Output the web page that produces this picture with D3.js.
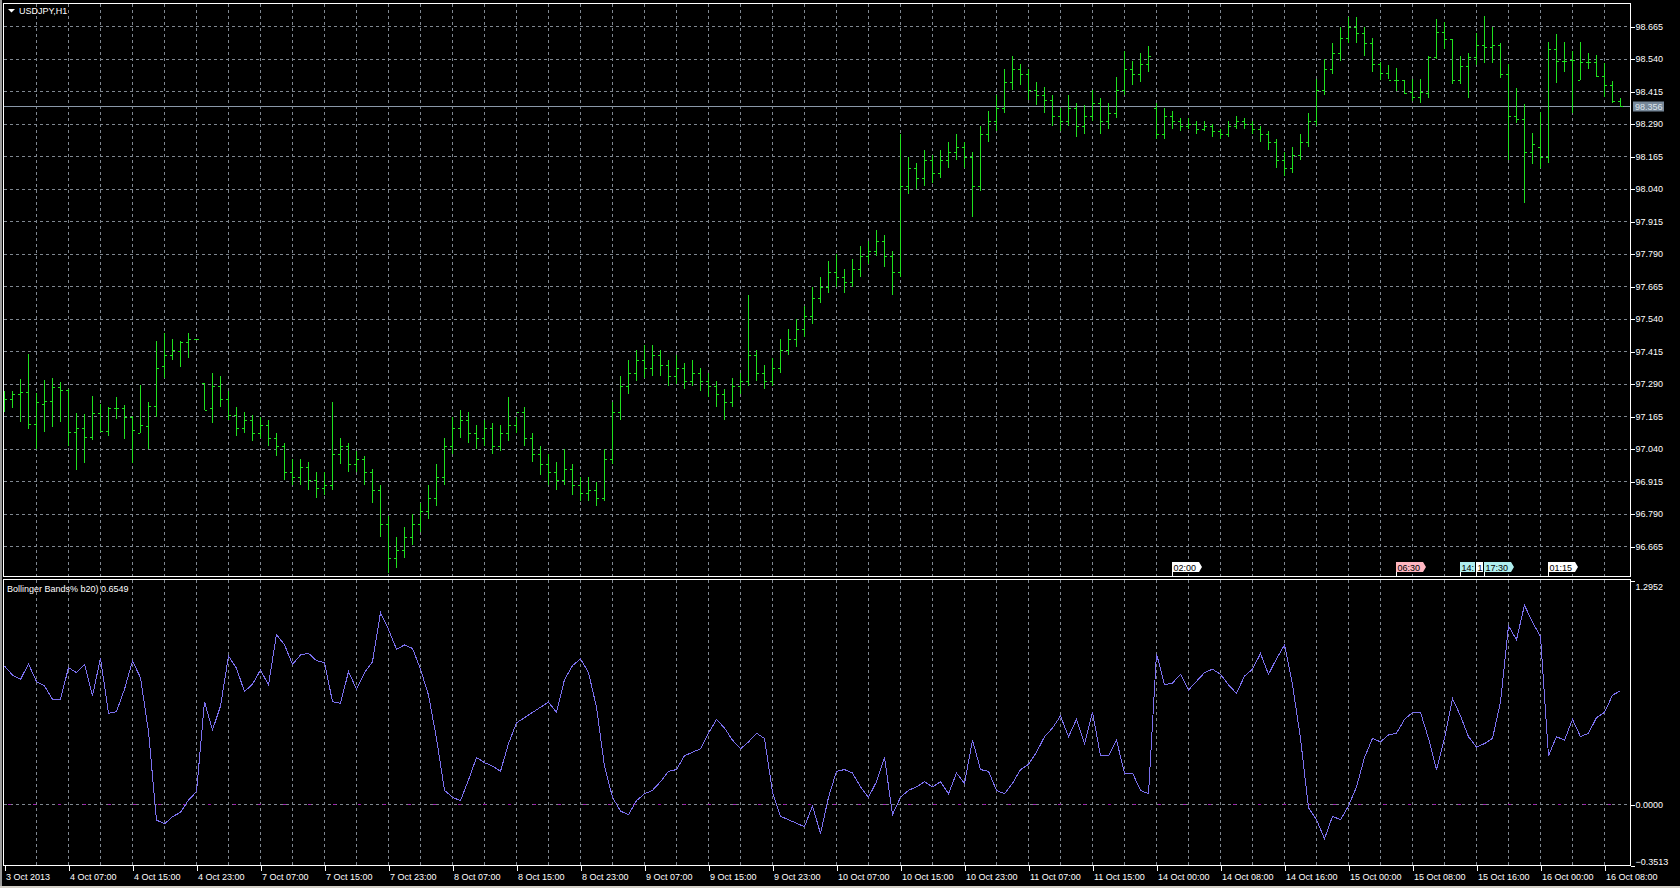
<!DOCTYPE html>
<html>
<head>
<meta charset="utf-8">
<title>USDJPY,H1</title>
<script src="https://cdn.jsdelivr.net/npm/d3@7/dist/d3.min.js"></script>
<style>
  body { margin: 0; background: #000; overflow: hidden; }
  svg { display: block; font-family: "Liberation Sans", Arial, sans-serif; }
</style>
</head>
<body>
<svg id="chart" width="1680" height="888"></svg>
<script>
// USDJPY hourly bars, 3 Oct 2013 23:00 .. 16 Oct 2013 10:00
var opens = [
 97.22,97.229,97.249,97.257,97.134,97.213,97.222,97.275,97.265,97.102,
 97.120,97.083,97.175,97.107,97.194,97.194,97.160,97.101,97.126,97.203,
 97.357,97.399,97.415,97.451,97.460,97.293,97.194,97.28,97.23,97.17,
 97.12,97.15,97.10,97.13,97.08,97.05,96.95,96.93,96.97,96.92,
 96.89,96.90,97.02,97.05,96.98,97.00,96.95,96.88,96.75,96.62,
 96.65,96.70,96.75,96.80,96.85,96.93,97.05,97.12,97.15,97.10,
 97.08,97.12,97.05,97.10,97.13,97.18,97.08,97.02,96.98,96.95,
 96.92,96.96,96.90,96.87,96.88,96.85,97.00,97.18,97.28,97.33,
 97.38,97.35,97.40,97.36,97.32,97.35,97.30,97.33,97.30,97.28,
 97.25,97.22,97.28,97.30,97.40,97.33,97.30,97.35,97.42,97.46,
 97.50,97.55,97.62,97.66,97.72,97.70,97.68,97.73,97.78,97.80,
 97.84,97.78,97.72,98.05,98.12,98.08,98.15,98.10,98.15,98.18,
 98.20,98.16,98.05,98.25,98.30,98.35,98.45,98.50,98.48,98.42,
 98.40,98.38,98.32,98.30,98.35,98.28,98.32,98.37,98.30,98.33,
 98.42,98.50,98.48,98.52,98.35,98.25,98.32,98.30,98.28,98.29,
 98.27,98.28,98.26,98.25,98.28,98.30,98.29,98.27,98.25,98.22,
 98.15,98.12,98.17,98.22,98.30,98.42,98.50,98.56,98.62,98.66,
 98.64,98.60,98.52,98.486,98.457,98.457,98.412,98.393,98.406,98.547,
 98.641,98.615,98.457,98.511,98.547,98.592,98.585,98.592,98.480,98.319,
 98.307,98.180,98.200,98.160,98.575,98.530,98.534,98.457,98.528,98.528,
 98.473,98.438,98.378
]
var highs = [
 97.26,97.261,97.306,97.403,97.252,97.303,97.310,97.297,97.267,97.175,
 97.171,97.242,97.213,97.198,97.237,97.207,97.165,97.284,97.220,97.455,
 97.483,97.460,97.455,97.483,97.463,97.293,97.329,97.32,97.26,97.20,
 97.18,97.17,97.16,97.15,97.10,97.06,97.00,97.00,96.99,96.95,
 96.95,97.22,97.08,97.06,97.03,97.01,96.96,96.90,96.78,96.70,
 96.74,96.79,96.83,96.90,96.98,97.08,97.16,97.19,97.18,97.13,
 97.15,97.14,97.13,97.24,97.16,97.20,97.10,97.05,97.02,96.99,
 97.04,96.98,96.93,96.93,96.91,97.04,97.22,97.32,97.38,97.42,
 97.44,97.44,97.42,97.38,97.40,97.37,97.38,97.35,97.33,97.30,
 97.27,97.31,97.33,97.63,97.42,97.36,97.39,97.46,97.50,97.54,
 97.59,97.66,97.70,97.76,97.79,97.73,97.77,97.82,97.84,97.88,
 97.86,97.80,98.25,98.16,98.14,98.19,98.17,98.19,98.22,98.25,
 98.22,98.18,98.28,98.34,98.40,98.50,98.55,98.52,98.50,98.45,
 98.43,98.40,98.35,98.40,98.37,98.36,98.42,98.39,98.37,98.47,
 98.57,98.53,98.56,98.59,98.37,98.35,98.34,98.31,98.31,98.30,
 98.30,98.29,98.27,98.30,98.32,98.31,98.30,98.28,98.26,98.23,
 98.18,98.20,98.25,98.33,98.46,98.54,98.60,98.66,98.70,98.70,
 98.66,98.62,98.528,98.515,98.502,98.457,98.460,98.460,98.550,98.691,
 98.682,98.616,98.550,98.560,98.637,98.703,98.662,98.598,98.519,98.425,
 98.365,98.255,98.335,98.605,98.634,98.605,98.570,98.605,98.560,98.553,
 98.521,98.455,98.387
]
var lows = [
 97.18,97.197,97.143,97.116,97.040,97.102,97.124,97.143,97.049,96.957,
 96.985,97.072,97.104,97.088,97.153,97.075,96.985,97.101,97.040,97.162,
 97.313,97.380,97.354,97.390,97.457,97.190,97.139,97.20,97.15,97.09,
 97.10,97.07,97.08,97.05,97.01,96.92,96.90,96.90,96.88,96.85,
 96.86,96.88,96.98,96.95,96.95,96.90,96.83,96.70,96.56,96.58,
 96.62,96.67,96.72,96.77,96.82,96.90,97.02,97.08,97.06,97.04,
 97.05,97.02,97.03,97.07,97.10,97.05,96.99,96.94,96.90,96.88,
 96.90,96.86,96.84,96.84,96.82,96.84,96.98,97.15,97.25,97.30,
 97.31,97.32,97.32,97.28,97.29,97.27,97.28,97.26,97.24,97.20,
 97.15,97.20,97.25,97.28,97.30,97.27,97.28,97.33,97.40,97.43,
 97.47,97.52,97.60,97.64,97.66,97.64,97.66,97.70,97.75,97.78,
 97.74,97.63,97.70,98.02,98.04,98.05,98.06,98.08,98.12,98.15,
 98.12,97.93,98.03,98.22,98.26,98.33,98.42,98.44,98.38,98.36,
 98.33,98.28,98.26,98.28,98.24,98.25,98.30,98.25,98.27,98.31,
 98.40,98.44,98.45,98.49,98.23,98.23,98.27,98.26,98.27,98.25,
 98.26,98.24,98.23,98.24,98.27,98.27,98.25,98.22,98.19,98.12,
 98.09,98.10,98.15,98.20,98.28,98.40,98.48,98.53,98.60,98.60,
 98.55,98.49,98.457,98.460,98.416,98.403,98.377,98.370,98.387,98.537,
 98.575,98.442,98.441,98.389,98.515,98.524,98.524,98.464,98.150,98.291,
 97.985,98.135,98.120,98.140,98.444,98.489,98.329,98.457,98.498,98.470,
 98.393,98.368,98.352
]
var closes = [
 97.229,97.249,97.256,97.135,97.220,97.222,97.278,97.265,97.102,97.117,
 97.083,97.175,97.107,97.194,97.194,97.160,97.111,97.129,97.203,97.351,
 97.399,97.419,97.451,97.460,97.460,97.190,97.280,97.23,97.17,97.12,
 97.15,97.10,97.13,97.08,97.05,96.95,96.93,96.97,96.92,96.89,
 96.90,97.02,97.05,96.98,97.00,96.95,96.88,96.75,96.62,96.65,
 96.70,96.75,96.80,96.85,96.93,97.05,97.12,97.15,97.10,97.08,
 97.12,97.05,97.10,97.13,97.18,97.08,97.02,96.98,96.95,96.92,
 96.96,96.90,96.87,96.88,96.85,97.00,97.18,97.28,97.33,97.38,
 97.35,97.40,97.36,97.32,97.35,97.30,97.33,97.30,97.28,97.25,
 97.22,97.28,97.30,97.40,97.33,97.30,97.35,97.42,97.46,97.50,
 97.55,97.62,97.66,97.72,97.70,97.68,97.73,97.78,97.80,97.84,
 97.78,97.72,98.05,98.12,98.08,98.15,98.10,98.15,98.18,98.20,
 98.16,98.05,98.25,98.30,98.35,98.45,98.50,98.48,98.42,98.40,
 98.38,98.32,98.30,98.35,98.28,98.32,98.37,98.30,98.33,98.42,
 98.50,98.48,98.52,98.55,98.25,98.32,98.30,98.28,98.29,98.27,
 98.28,98.26,98.25,98.28,98.30,98.29,98.27,98.25,98.22,98.15,
 98.12,98.17,98.22,98.30,98.42,98.50,98.56,98.62,98.66,98.64,
 98.60,98.52,98.485,98.457,98.457,98.409,98.393,98.412,98.547,98.641,
 98.615,98.457,98.511,98.547,98.592,98.585,98.592,98.480,98.319,98.307,
 98.180,98.211,98.160,98.575,98.530,98.530,98.534,98.528,98.528,98.473,
 98.438,98.378,98.356
]
// Bollinger Bands %b (20), one value per bar
var pctB = [
 0.798,0.746,0.721,0.810,0.708,0.683,0.606,0.606,0.789,0.760,
 0.808,0.627,0.843,0.525,0.535,0.664,0.827,0.731,0.419,-0.091,
 -0.114,-0.072,-0.047,0.024,0.072,0.592,0.429,0.567,0.856,0.785,
 0.650,0.694,0.775,0.689,0.981,0.920,0.808,0.862,0.872,0.829,
 0.818,0.592,0.583,0.766,0.664,0.760,0.823,1.107,1.010,0.895,
 0.92,0.90,0.78,0.63,0.38,0.08,0.04,0.02,0.14,0.27,
 0.24,0.22,0.19,0.35,0.47,0.50,0.53,0.56,0.59,0.53,
 0.72,0.80,0.84,0.76,0.56,0.22,0.04,-0.04,-0.06,0.02,
 0.06,0.08,0.13,0.19,0.20,0.28,0.30,0.32,0.41,0.49,
 0.44,0.37,0.32,0.36,0.41,0.38,0.07,-0.07,-0.09,-0.11,
 -0.13,-0.01,-0.17,0.04,0.19,0.20,0.18,0.10,0.04,0.13,
 0.27,-0.06,0.04,0.08,0.10,0.13,0.10,0.13,0.06,0.18,
 0.12,0.37,0.20,0.19,0.08,0.06,0.12,0.20,0.23,0.30,
 0.39,0.44,0.51,0.39,0.49,0.35,0.53,0.28,0.28,0.37,
 0.18,0.18,0.08,0.06,0.87,0.69,0.70,0.75,0.66,0.71,
 0.76,0.78,0.75,0.69,0.64,0.74,0.78,0.87,0.75,0.84,
 0.92,0.69,0.38,-0.02,-0.09,-0.20,-0.07,-0.09,-0.01,0.10,
 0.27,0.38,0.36,0.40,0.41,0.49,0.53,0.53,0.38,0.20,
 0.38,0.61,0.51,0.39,0.33,0.35,0.38,0.59,1.03,0.95,
 1.15,1.05,0.97,0.28,0.39,0.37,0.49,0.39,0.41,0.50,
 0.53,0.63,0.6549
]

var priceTicks = [98.665,98.540,98.415,98.290,98.165,98.040,97.915,97.790,97.665,
                  97.540,97.415,97.290,97.165,97.040,96.915,96.790,96.665]
var bbTicks = [1.2952, 0, -0.3513]
var timeLabels = ["3 Oct 2013","4 Oct 07:00","4 Oct 15:00","4 Oct 23:00","7 Oct 07:00",
  "7 Oct 15:00","7 Oct 23:00","8 Oct 07:00","8 Oct 15:00","8 Oct 23:00","9 Oct 07:00",
  "9 Oct 15:00","9 Oct 23:00","10 Oct 07:00","10 Oct 15:00","10 Oct 23:00","11 Oct 07:00",
  "11 Oct 15:00","14 Oct 00:00","14 Oct 08:00","14 Oct 16:00","15 Oct 00:00","15 Oct 08:00",
  "15 Oct 16:00","16 Oct 00:00","16 Oct 08:00"]

// news event flags on the bottom of the price window
var eventBars = [146, 174, 182, 184, 185, 193]
var eventTexts = ["02:00", "06:30", "14:", "1", "17:30", "01:15"]
var eventColors = ["#ffffff", "#ffb6c1", "#afeeee", "#ffffff", "#afeeee", "#ffffff"]

var svg = d3.select("#chart")
var left = 3.5, right = 1630.5
var mainTop = 3.5, mainBottom = 576.5
var subTop = 579.5, subBottom = 865.5
var gridColor = "#7f8790"
var barColor = "#1fe01f"

var n = closes.length
var x = d3.scaleLinear().domain([0, n - 1]).range([4.5, 4.5 + 8 * (n - 1)])
var y = d3.scaleLinear().domain([96.665, 98.665]).range([546, 26])
var yb = d3.scaleLinear().domain([-0.3513, 1.2952]).range([865, 580])

function px(v) { return Math.round(v) + 0.5 }

svg.append("rect").attr("width", 1680).attr("height", 888).attr("fill", "#000")
svg.append("rect").attr("x", 0).attr("y", 0).attr("width", 2).attr("height", 888).attr("fill", "#9a9a9a")
svg.append("rect").attr("x", 0).attr("y", 886).attr("width", 1680).attr("height", 2).attr("fill", "#d4d0c8")

var defs = svg.append("defs")
defs.append("clipPath").attr("id", "clipMain").append("rect")
    .attr("x", left).attr("y", mainTop).attr("width", right - left).attr("height", mainBottom - mainTop)
defs.append("clipPath").attr("id", "clipSub").append("rect")
    .attr("x", left).attr("y", subTop).attr("width", right - left).attr("height", subBottom - subTop)

// grid
var grid = svg.append("g").attr("stroke", gridColor).attr("stroke-dasharray", "3,3")
    .attr("shape-rendering", "crispEdges")
grid.selectAll(".hg").data(priceTicks).enter().append("line")
    .attr("x1", left).attr("x2", right)
    .attr("y1", function(d){return px(y(d))}).attr("y2", function(d){return px(y(d))})
var vIdx = d3.range(4, n, 4)
grid.selectAll(".vm").data(vIdx).enter().append("line")
    .attr("x1", function(d){return x(d)}).attr("x2", function(d){return x(d)})
    .attr("y1", mainTop).attr("y2", mainBottom)
grid.selectAll(".vs").data(vIdx).enter().append("line")
    .attr("x1", function(d){return x(d)}).attr("x2", function(d){return x(d)})
    .attr("y1", subTop).attr("y2", subBottom)

// zero level of the indicator
grid.append("line").attr("x1", left).attr("x2", right)
    .attr("y1", px(yb(0))).attr("y2", px(yb(0)))
svg.append("line").attr("x1", left + 4).attr("x2", right)
    .attr("y1", px(yb(0))).attr("y2", px(yb(0)))
    .attr("stroke", "#a020b0").attr("stroke-dasharray", "3,22")
    .attr("shape-rendering", "crispEdges")

// last price line
var last = closes[n - 1]
svg.append("line").attr("x1", left).attr("x2", right)
    .attr("y1", px(y(last))).attr("y2", px(y(last)))
    .attr("stroke", "#8a98a8").attr("shape-rendering", "crispEdges")

// OHLC bars
var bars = svg.append("g").attr("clip-path", "url(#clipMain)")
    .attr("stroke", barColor).attr("shape-rendering", "crispEdges")
bars.selectAll(".hl").data(closes).enter().append("line")
    .attr("x1", function(d,i){return x(i)}).attr("x2", function(d,i){return x(i)})
    .attr("y1", function(d,i){return Math.round(y(highs[i]))})
    .attr("y2", function(d,i){return Math.max(Math.round(y(lows[i])), Math.round(y(highs[i])) + 1)})
bars.selectAll(".op").data(opens).enter().append("line")
    .attr("x1", function(d,i){return x(i) - 2.5}).attr("x2", function(d,i){return x(i) - 0.5})
    .attr("y1", function(d){return px(y(d))}).attr("y2", function(d){return px(y(d))})
bars.selectAll(".cl").data(closes).enter().append("line")
    .attr("x1", function(d,i){return x(i) + 0.5}).attr("x2", function(d,i){return x(i) + 2.5})
    .attr("y1", function(d){return px(y(d))}).attr("y2", function(d){return px(y(d))})

// %b line
var bbLine = d3.line().x(function(d,i){return x(i)}).y(function(d){return yb(d)})
svg.append("path").datum(pctB).attr("clip-path", "url(#clipSub)")
    .attr("d", bbLine).attr("fill", "none").attr("stroke", "#7b70ee")
    .attr("stroke-width", 1).attr("shape-rendering", "crispEdges")

// event flags
var flags = svg.append("g").attr("font-size", "9px")
eventBars.forEach(function(b, k) {
    var x0 = x(b) - 0.5
    var tw = eventTexts[k].length * 4.6 + 1
    var w = tw + 3
    var arrow = true
    if (k < eventBars.length - 1) {
        var room = x(eventBars[k + 1]) - 0.5 - x0 - 1
        if (w + 3 > room) { w = room; arrow = false }
    }
    var y0 = 562, y1 = 572
    var d = "M" + x0 + "," + y0 + "H" + (x0 + w)
    if (arrow) d += "L" + (x0 + w + 3) + "," + (y0 + y1) / 2
    d += "L" + (x0 + w) + "," + y1 + "H" + x0 + "Z"
    flags.append("path").attr("d", d).attr("fill", eventColors[k])
    flags.append("line").attr("x1", x0 + 0.5).attr("x2", x0 + 0.5).attr("y1", y1).attr("y2", 576)
        .attr("stroke", "#fff").attr("shape-rendering", "crispEdges")
    flags.append("text").attr("x", x0 + 1.5).attr("y", y1 - 1.5).attr("fill", "#000")
        .text(eventTexts[k])
})

// frames
svg.append("rect").attr("x", left).attr("y", mainTop).attr("width", right - left)
    .attr("height", mainBottom - mainTop).attr("fill", "none").attr("stroke", "#fff")
    .attr("shape-rendering", "crispEdges")
svg.append("rect").attr("x", left).attr("y", subTop).attr("width", right - left)
    .attr("height", subBottom - subTop).attr("fill", "none").attr("stroke", "#fff")
    .attr("shape-rendering", "crispEdges")

function styleAxis(g) {
    g.select(".domain").remove()
    g.selectAll("line").attr("stroke", "#fff").attr("shape-rendering", "crispEdges")
    g.selectAll("text").attr("fill", "#fff").attr("font-size", "9px")
        .attr("font-family", "'Liberation Sans', Arial, sans-serif")
}

// price axis
var yAxis = d3.axisRight(y).tickValues(priceTicks).tickSize(4).tickPadding(1)
    .tickFormat(d3.format(".3f"))
svg.append("g").attr("transform", "translate(" + right + ",0.5)").call(yAxis).call(styleAxis)

// indicator axis
var bAxis = d3.axisRight(yb).tickValues(bbTicks).tickSize(4).tickPadding(1)
    .tickFormat(d3.format(".4f"))
var bg = svg.append("g").attr("transform", "translate(" + right + ",0.5)").call(bAxis).call(styleAxis)
bg.selectAll("text").attr("dy", function(d){ return d === bbTicks[0] ? "0.95em" : (d === bbTicks[2] ? "-0.15em" : "0.32em") })

// time axis
var tIdx = timeLabels.map(function(d, i){ return i * 8 })
var tAxis = d3.axisBottom(x).tickValues(tIdx).tickSize(5).tickPadding(3)
    .tickFormat(function(d, i){ return timeLabels[i] })
var tg = svg.append("g").attr("transform", "translate(0," + subBottom + ")").call(tAxis).call(styleAxis)
tg.selectAll("text").attr("text-anchor", "start").attr("x", 1)

// last price box
var lp = px(y(last))
svg.append("rect").attr("x", 1633).attr("y", lp - 5).attr("width", 31).attr("height", 10)
    .attr("fill", "#778899")
svg.append("text").attr("x", 1635).attr("y", lp + 3.5).attr("fill", "#dde3ea")
    .attr("font-size", "9px").text(d3.format(".3f")(last))

// titles
svg.append("path").attr("d", "M8,9H15L11.5,12.5Z").attr("fill", "#fff")
svg.append("text").attr("x", 19).attr("y", 14).attr("fill", "#fff").attr("font-size", "9px")
    .text("USDJPY,H1")
svg.append("text").attr("x", 7).attr("y", 592).attr("fill", "#fff").attr("font-size", "9px")
    .text("Bollinger Bands% b20) " + d3.format(".4f")(pctB[n - 1]))
</script>
</body>
</html>
